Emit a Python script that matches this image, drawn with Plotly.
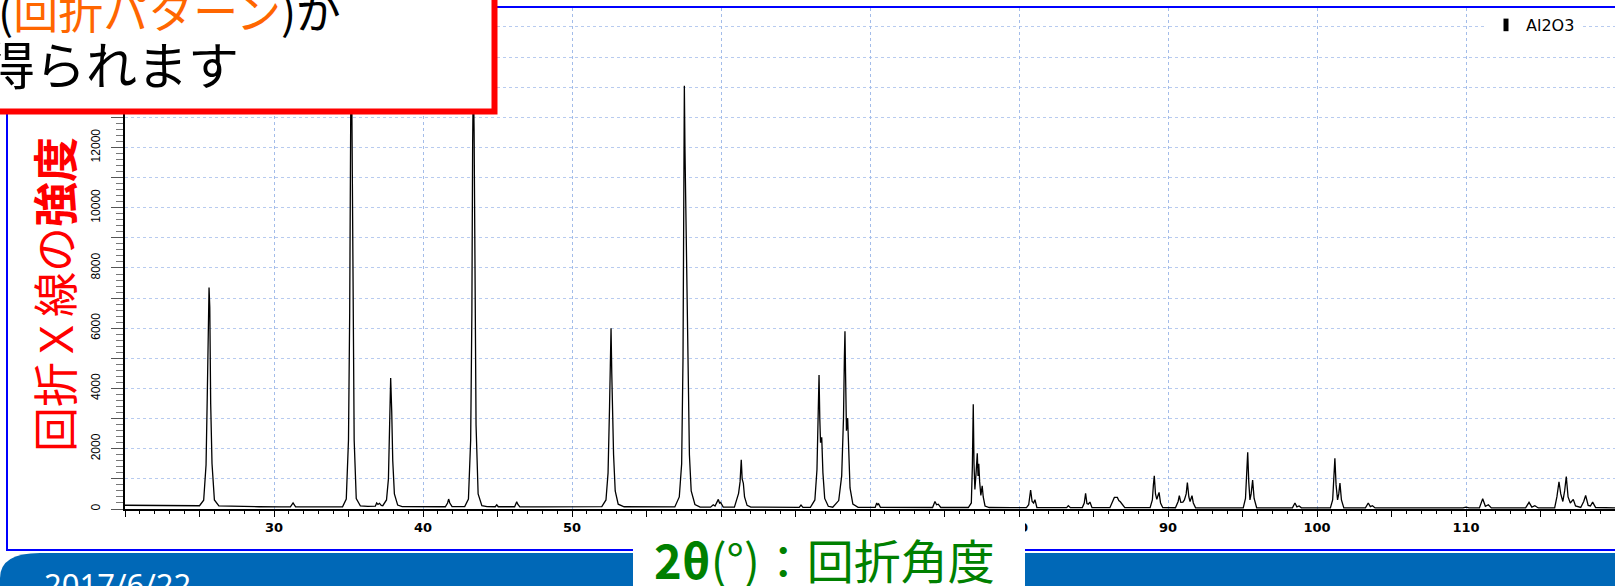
import plotly.graph_objects as go

# Al2O3 powder X-ray diffraction pattern: (2theta [deg], intensity [counts])
pattern_20_50 = [
    (20.0, 125), (21.5, 118), (23.0, 112), (24.5, 110), (25.0, 108),
    (25.28, 290), (25.44, 1470), (25.52, 3700), (25.59, 6600), (25.64, 7350),
    (25.69, 6700), (25.75, 3500), (25.84, 1500), (26.0, 300), (26.3, 105),
    (27.5, 85), (29.0, 75), (30.5, 70), (31.1, 72), (31.28, 200), (31.45, 72),
    (32.5, 70), (34.0, 72), (34.6, 75), (34.85, 330), (35.0, 2300),
    (35.08, 6500), (35.13, 13000), (35.18, 16000), (35.23, 13000),
    (35.29, 7000), (35.38, 2300), (35.52, 350), (35.8, 100), (36.3, 85),
    (36.8, 95), (36.89, 200), (36.98, 150), (37.08, 190), (37.2, 120),
    (37.3, 110), (37.55, 300), (37.68, 1000), (37.76, 2800), (37.83, 4350),
    (37.9, 3260), (37.97, 1600), (38.08, 500), (38.3, 130), (38.6, 80),
    (40.0, 72), (41.5, 75), (41.65, 200), (41.72, 330), (41.8, 200),
    (41.95, 80), (42.8, 80), (43.05, 330), (43.2, 2300), (43.28, 6500),
    (43.33, 12000), (43.38, 14500), (43.43, 12500), (43.48, 8000),
    (43.56, 2800), (43.7, 500), (43.95, 110), (44.3, 80), (44.85, 75),
    (44.95, 140), (45.05, 75), (46.15, 75), (46.22, 160), (46.29, 240),
    (46.36, 160), (46.5, 72), (48.0, 70), (50.0, 68),
]

pattern_50_80 = [
    (51.5, 70), (52.0, 80), (52.28, 300), (52.42, 1200), (52.52, 3400),
    (52.58, 5400), (52.62, 6000), (52.67, 4500), (52.72, 3200), (52.79, 1800),
    (52.9, 600), (53.1, 160), (53.5, 75), (55.0, 65), (56.9, 68), (57.2, 400),
    (57.36, 1500), (57.45, 5000), (57.5, 11000), (57.54, 14050),
    (57.58, 12000), (57.62, 10460), (57.68, 8500), (57.74, 7400),
    (57.8, 4500), (57.88, 1800), (58.0, 600), (58.25, 150), (58.6, 65),
    (59.3, 62), (59.48, 140), (59.6, 100), (59.82, 320), (59.9, 200),
    (59.97, 220), (60.15, 65), (60.9, 62), (61.1, 350), (61.18, 520),
    (61.28, 900), (61.36, 1630), (61.42, 1000), (61.5, 850), (61.58, 400),
    (61.75, 120), (62.0, 60), (63.5, 58), (65.25, 56), (65.37, 130),
    (65.5, 56), (66.0, 58), (66.3, 300), (66.44, 1300), (66.52, 3200),
    (66.58, 4450), (66.63, 3000), (66.68, 2200), (66.76, 2380),
    (66.84, 1200), (66.96, 350), (67.2, 90), (67.5, 58), (67.9, 280),
    (68.1, 1100), (68.22, 3000), (68.28, 5000), (68.32, 5900), (68.36, 4500),
    (68.42, 2600), (68.5, 3020), (68.56, 2000), (68.66, 700), (68.85, 160),
    (69.2, 56), (70.35, 54), (70.45, 200), (70.52, 140), (70.58, 170),
    (70.7, 54), (72.5, 52), (74.2, 50), (74.36, 250), (74.47, 140),
    (74.58, 160), (74.75, 50), (76.6, 50), (76.8, 200), (76.87, 1400),
    (76.93, 3480), (76.98, 1500), (77.04, 650), (77.12, 1200), (77.2, 1850),
    (77.25, 1100), (77.3, 1500), (77.36, 900), (77.44, 450), (77.53, 770),
    (77.6, 400), (77.72, 100), (78.0, 50), (79.5, 48),
]

pattern_80_120 = [
    (80.5, 48), (80.65, 140), (80.78, 630), (80.88, 250), (80.98, 200),
    (81.07, 310), (81.2, 50), (83.2, 46), (83.31, 110), (83.45, 46),
    (84.25, 46), (84.38, 200), (84.47, 520), (84.56, 180), (84.65, 160),
    (84.76, 230), (84.9, 46), (86.1, 45), (86.3, 300), (86.4, 385),
    (86.6, 385), (86.7, 280), (86.8, 240), (86.95, 120), (87.1, 45),
    (88.8, 44), (88.95, 300), (89.02, 800), (89.08, 1100), (89.16, 500),
    (89.25, 320), (89.33, 450), (89.4, 550), (89.5, 200), (89.65, 43),
    (90.5, 42), (90.68, 250), (90.76, 440), (90.86, 220), (91.0, 230),
    (91.1, 300), (91.22, 500), (91.3, 880), (91.4, 400), (91.48, 250),
    (91.61, 440), (91.7, 200), (91.85, 42), (93.5, 40), (95.05, 40),
    (95.2, 350), (95.28, 1200), (95.35, 1880), (95.42, 900), (95.5, 300),
    (95.58, 500), (95.68, 960), (95.78, 350), (95.95, 40), (98.35, 38),
    (98.52, 200), (98.65, 70), (98.8, 100), (98.95, 38), (100.9, 38),
    (101.05, 300), (101.13, 1100), (101.2, 1680), (101.28, 800),
    (101.38, 300), (101.46, 500), (101.54, 860), (101.64, 300), (101.8, 38),
    (103.25, 36), (103.44, 200), (103.58, 80), (103.72, 110), (103.9, 36),
    (106.0, 35), (109.8, 35), (110.0, 60), (110.2, 35), (110.9, 35),
    (111.12, 340), (111.3, 90), (111.5, 140), (111.7, 35), (114.0, 35),
    (114.23, 220), (114.42, 60), (114.62, 110), (114.85, 35), (115.95, 40),
    (116.1, 400), (116.24, 905), (116.36, 500), (116.5, 250), (116.62, 600),
    (116.73, 1080), (116.85, 400), (117.0, 200), (117.2, 320), (117.35, 100),
    (117.7, 50), (117.9, 250), (118.03, 450), (118.2, 120), (118.35, 100),
    (118.5, 230), (118.7, 50), (120.0, 35),
]

# 60 and 70 sit under the caption box, so only the visible labels are listed
x_tick_vals = list(range(20, 121, 5))
x_tick_text = ["30", "40", "50", "80", "90", "100", "110"]
y_tick_vals = list(range(0, 16001, 1000))
y_tick_text = ["0", "2000", "4000", "6000", "8000", "10000", "12000"]

series_name = "Al2O3"
callout_lines = ["(<span style='color:#FF6600'>回折パターン</span>)が", "得られます"]
y_title = "回折Ｘ線の<b>強度</b>"
x_title = "<b>2θ</b>(°)：回折角度"
date_text = "2017/6/22"

points = pattern_20_50 + pattern_50_80 + pattern_80_120
two_theta = [p[0] for p in points]
counts = [p[1] for p in points]

# canvas and plot-area geometry (pixels)
W, H = 1615, 586
ML, MR, MT, MB = 125, 0, 8, 77
PW, PH = W - ML - MR, H - MT - MB


def fx(px):
    return (px - ML) / PW


def fy(py):
    return (H - MB - py) / PH


x_labels = [str(v) if str(v) in x_tick_text else "" for v in x_tick_vals]
y_labels = [str(v) if str(v) in y_tick_text else "" for v in y_tick_vals]

fig = go.Figure()
fig.add_trace(go.Scatter(
    x=two_theta, y=counts, mode="lines",
    line=dict(color="black", width=1.3),
    showlegend=False, hoverinfo="skip",
))
# legend entry (also carries the 10-degree grid axis)
fig.add_trace(go.Scatter(
    x=[None], y=[None], mode="markers", name=series_name,
    marker=dict(symbol="line-ns", size=9, color="black",
                line=dict(color="black", width=5)),
    xaxis="x2", yaxis="y",
))

fig.update_layout(
    width=W, height=H,
    margin=dict(l=ML, r=MR, t=MT, b=MB, pad=0),
    paper_bgcolor="white", plot_bgcolor="white",
    xaxis=dict(
        range=[20, 120], showgrid=False, zeroline=False,
        showline=True, linecolor="black", linewidth=1.5,
        ticks="outside", tickvals=x_tick_vals, ticktext=x_labels,
        ticklen=6, tickwidth=1.2, tickcolor="black",
        tickfont=dict(family="DejaVu Sans", size=13, color="black", weight="bold"),
        minor=dict(ticks="outside", dtick=1, ticklen=3, tickwidth=1, tickcolor="black", showgrid=False),
    ),
    xaxis2=dict(
        range=[20, 120], overlaying="x", side="bottom", anchor="y",
        showgrid=True, dtick=10, tick0=0, gridcolor="#a3bce9", gridwidth=1, griddash="dot",
        showticklabels=False, ticks="", showline=False, zeroline=False,
    ),
    yaxis=dict(
        range=[0, 16630], zeroline=False,
        showline=True, linecolor="black", linewidth=1.5,
        showgrid=True, gridcolor="#b8cbef", gridwidth=1, griddash="dot",
        ticks="outside", tickvals=y_tick_vals, ticktext=y_labels,
        ticklen=12, tickwidth=1, tickcolor="#555555",
        tickangle=-90, ticklabelstandoff=6,
        tickfont=dict(family="Liberation Sans Narrow, Arial Narrow, Liberation Sans", size=12, color="black"),
        minor=dict(ticks="outside", dtick=200, ticklen=7, tickwidth=1, tickcolor="#777777", showgrid=False),
    ),
    legend=dict(
        x=fx(1486), y=fy(25), xanchor="left", yanchor="middle",
        bgcolor="white", borderwidth=0, itemwidth=30,
        font=dict(family="DejaVu Sans", size=16, color="black"),
    ),
)

shapes = [
    # footer band with rounded left corner
    dict(type="path", xref="paper", yref="paper",
         path=(f"M {fx(0)},{fy(600)} L {fx(0)},{fy(578)} "
               f"Q {fx(0)},{fy(553)} {fx(40)},{fy(553)} "
               f"L {fx(1640)},{fy(553)} L {fx(1640)},{fy(600)} Z"),
         fillcolor="#0068b7", line=dict(width=0)),
    # chart frame
    dict(type="rect", xref="paper", yref="paper",
         x0=fx(7), x1=fx(1640), y0=fy(550), y1=fy(7),
         line=dict(color="#0000ff", width=2), fillcolor="rgba(0,0,0,0)"),
    # backing box for the angle caption
    dict(type="rect", xref="paper", yref="paper",
         x0=fx(633), x1=fx(1025), y0=fy(600), y1=fy(517),
         line=dict(width=0), fillcolor="white"),
    # callout box
    dict(type="rect", xref="paper", yref="paper",
         x0=fx(-20), x1=fx(494.5), y0=fy(111.5), y1=fy(-20),
         line=dict(color="#ff0000", width=6), fillcolor="white"),
]
fig.update_layout(shapes=shapes)

jp = "Noto Sans CJK JP"
annotations = [
    dict(text=callout_lines[0], x=fx(343), y=fy(10), xanchor="right", yanchor="middle",
         font=dict(family=jp, size=45, color="black")),
    dict(text=callout_lines[1], x=fx(-18), y=fy(63), xanchor="left", yanchor="middle",
         font=dict(family=jp, size=51, color="black")),
    dict(text=y_title, x=fx(53), y=fy(295), xanchor="center", yanchor="middle",
         textangle=-90, font=dict(family=jp, size=45, color="#ff0000")),
    dict(text=x_title, x=fx(824), y=fy(558), xanchor="center", yanchor="middle",
         font=dict(family=jp, size=47, color="#008000")),
    dict(text=date_text, x=fx(42), y=fy(584), xanchor="left", yanchor="middle",
         font=dict(family="Noto Sans", size=31, color="white")),
]
for a in annotations:
    a.update(xref="paper", yref="paper", showarrow=False)
fig.update_layout(annotations=annotations)

fig.write_html("out.html")
